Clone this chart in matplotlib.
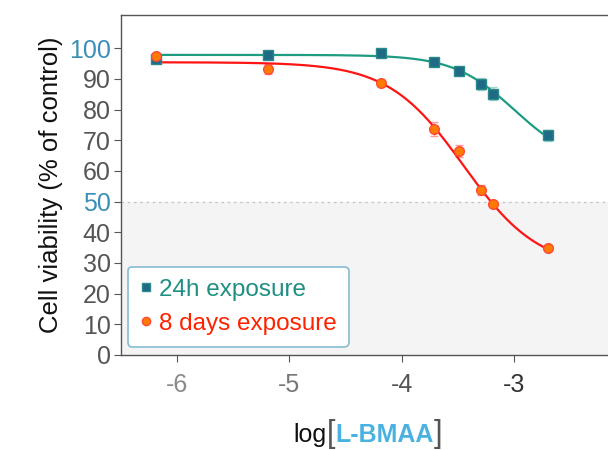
import matplotlib.pyplot as plt
import numpy as np
from matplotlib.offsetbox import TextArea, HPacker, AnchoredOffsetbox

plt.rcParams['font.family'] = ['Liberation Sans', 'DejaVu Sans']

# log[L-BMAA] (M)
logc = [-6.187, -5.187, -4.187, -3.71, -3.49, -3.30, -3.187, -2.699]
# 24h exposure
v24 = [96.3, 97.7, 98.3, 95.5, 92.6, 88.3, 85.2, 71.6]
e24 = [0.6, 0.6, 0.5, 0.8, 1.2, 2.0, 2.0, 1.8]
# 8 days exposure
v8d = [97.4, 93.2, 88.7, 73.7, 66.5, 53.7, 49.2, 34.8]
e8d = [0.6, 1.5, 0.8, 2.2, 2.0, 1.6, 1.0, 0.6]
# fitted 4PL parameters: top, bottom, logEC50, hill
fit24 = [97.8, 62.0, -3.0, 1.6]
fit8d = [95.4, 28.0, -3.45, 1.3]

yticks = [0, 10, 20, 30, 40, 50, 60, 70, 80, 90, 100]
xticks = [-6, -5, -4, -3, -2]


def four_pl(x, p):
    top, bot, ec, h = p
    return bot + (top - bot) / (1 + 10 ** ((x - ec) * h))


fig = plt.figure(figsize=(6.08, 4.5), dpi=100)
ax = fig.add_axes([120.5 / 608, 95 / 450, 562.5 / 608, 340 / 450])
ax.set_xlim(-6.5, -1.5)
ax.set_ylim(0, 110.8)

ax.axhspan(0, 50, color='#f4f4f4', zorder=0)
ax.axhline(50, color='#c4c4c4', lw=0.9, ls=(0, (2, 3)), zorder=1)

xs = np.linspace(logc[0], logc[-1], 300)
ax.plot(xs, four_pl(xs, fit24), color='#1e9c82', lw=1.6, zorder=3)
ax.plot(xs, four_pl(xs, fit8d), color='#ff1414', lw=1.6, zorder=3)

ax.errorbar(logc, v24, yerr=e24, fmt='none', ecolor='#9fd8cc', elinewidth=1, capsize=3, zorder=2)
ax.errorbar(logc, v8d, yerr=e8d, fmt='none', ecolor='#ff9a9a', elinewidth=1, capsize=3, zorder=2)
h1, = ax.plot(logc, v24, 's', color='#1f6b86', mec='#2a8a8a', ms=6.5, zorder=4, label='24h exposure')
h2, = ax.plot(logc, v8d, 'o', color='#ff7a00', mec='#ff4a3a', ms=7, zorder=5, label='8 days exposure')

for s in ax.spines.values():
    s.set_color('#555555')
    s.set_linewidth(1.0)
ax.tick_params(direction='out', length=5, color='#555555', labelsize=18)
ax.set_yticks(yticks)
ax.set_xticks(xticks)
ax.set_xticklabels([str(t) for t in xticks])
for lab, t in zip(ax.get_yticklabels(), yticks):
    lab.set_color('#3a8fb8' if t in (50, 100) else '#555555')
xcols = ['#8a8a8a', '#777777', '#555555', '#333333', '#333333']
for lab, c in zip(ax.get_xticklabels(), xcols):
    lab.set_color(c)
ax.tick_params(axis='x', pad=8)
ax.tick_params(axis='y', pad=2)

ax.set_ylabel('Cell viability (% of control)', fontsize=18.5, color='#111111', labelpad=4)

leg = ax.legend(handles=[h1, h2], loc='lower left', bbox_to_anchor=(7 / 562.5, 8 / 340),
                borderaxespad=0, fontsize=17.5, frameon=True, fancybox=True, handlelength=0.5,
                handletextpad=0.3, borderpad=0.5, labelspacing=0.5, markerscale=0.85)
leg.get_frame().set_edgecolor('#86bcd2')
leg.get_frame().set_linewidth(1.2)
leg.get_frame().set_facecolor('white')
leg.get_frame().set_alpha(1)
leg.texts[0].set_color('#1f8f82')
leg.texts[1].set_color('#ff2200')

parts = [
    TextArea('log', textprops=dict(fontsize=18, color='#111111')),
    TextArea('[', textprops=dict(fontsize=22, color='#555555', fontweight='light')),
    TextArea('L-BMAA', textprops=dict(fontsize=18, color='#4ab2e0', fontweight='bold')),
    TextArea(']', textprops=dict(fontsize=22, color='#555555', fontweight='light')),
]
box = HPacker(children=parts, align='baseline', pad=0, sep=0)
anch = AnchoredOffsetbox(loc='center', child=box, frameon=False,
                         bbox_to_anchor=(368 / 608, 16 / 450), bbox_transform=fig.transFigure,
                         borderpad=0, pad=0)
fig.add_artist(anch)

fig.savefig('out.png', dpi=100)
